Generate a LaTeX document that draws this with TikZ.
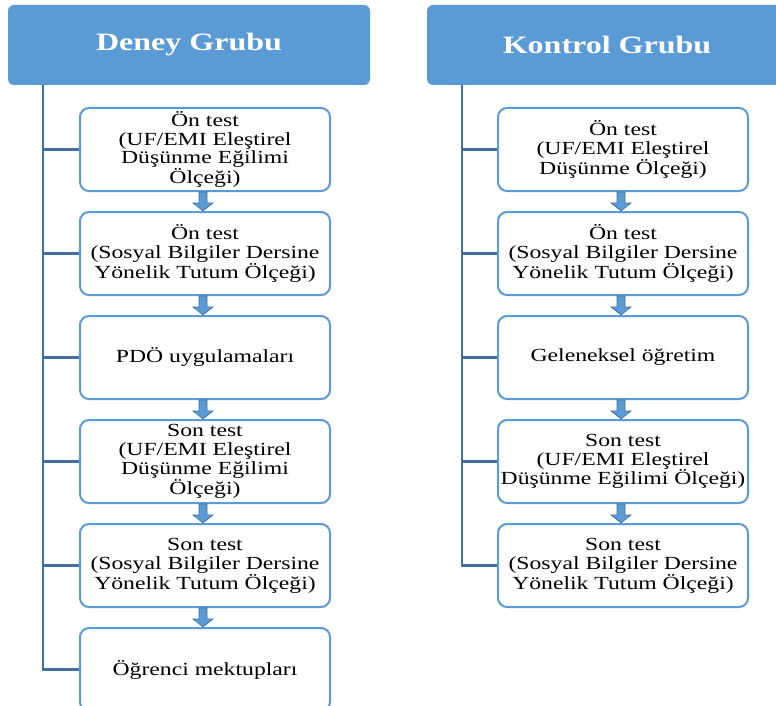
\documentclass[tikz,border=0pt]{standalone}
\usepackage{fontspec}
\setmainfont{Liberation Serif}[FakeStretch=1.28]
\usetikzlibrary{calc}
\definecolor{hdblue}{HTML}{5B9BD5}
\definecolor{lnblue}{HTML}{41719C}
\tikzset{
  hdr/.style={fill=hdblue, draw=none, rounded corners=6pt, text=white,
    font=\fontsize{25}{27}\selectfont\bfseries, minimum height=80pt, inner sep=0pt},
  stepbox/.style={draw=hdblue, line width=2pt, fill=white, rounded corners=9pt,
    minimum width=250pt, minimum height=83pt, inner sep=0pt, align=center,
    font=\fontsize{18.5}{18.8}\selectfont},
  conn/.style={draw=lnblue, line width=2.5pt},
  barrow/.style={fill=hdblue, draw=lnblue, line width=0.6pt, line join=miter}
}
\newcommand{\blockarrow}[2]{%
  \draw[barrow] ($(#1.south)+(-6,0)$) -- ($(#1.south)+(-6,-11)$) -- ($(#1.south)+(-12,-11)$)
    -- ($(#2.north)+(-2,0)$) -- ($(#1.south)+(8,-11)$) -- ($(#1.south)+(2,-11)$)
    -- ($(#1.south)+(2,0)$) -- cycle;}
\begin{document}
\begin{tikzpicture}[x=1pt,y=1pt]
\useasboundingbox (0,0) rectangle (776,-706);
\clip (0,0) rectangle (776,-706);
\fill[white] (0,0) rectangle (776,-706);

% headers
\node[hdr, minimum width=362pt] (hl) at (189,-45) {Deney Grubu};
\node[hdr, minimum width=360pt] (hr) at (607,-45) {Kontrol Grubu};

% left column
\coordinate (L) at (43,-85);
\node[stepbox] (l1) at (205,-149.5) {Ön test\\(UF/EMI Eleştirel\\Düşünme Eğilimi\\Ölçeği)};
\node[stepbox] (l2) at (205,-253.5) {Ön test\\(Sosyal Bilgiler Dersine\\Yönelik Tutum Ölçeği)};
\node[stepbox] (l3) at (205,-357.5) {PDÖ uygulamaları};
\node[stepbox] (l4) at (205,-461.5) {Son test\\(UF/EMI Eleştirel\\Düşünme Eğilimi\\Ölçeği)};
\node[stepbox] (l5) at (205,-565.5) {Son test\\(Sosyal Bilgiler Dersine\\Yönelik Tutum Ölçeği)};
\node[stepbox] (l6) at (205,-669.5) {Öğrenci mektupları};

% right column
\coordinate (R) at (462,-85);
\node[stepbox] (r1) at (623,-149.5) {Ön test\\(UF/EMI Eleştirel\\Düşünme Ölçeği)};
\node[stepbox] (r2) at (623,-253.5) {Ön test\\(Sosyal Bilgiler Dersine\\Yönelik Tutum Ölçeği)};
\node[stepbox] (r3) at (623,-357.5) {Geleneksel öğretim};
\node[stepbox] (r4) at (623,-461.5) {Son test\\(UF/EMI Eleştirel\\Düşünme Eğilimi Ölçeği)};
\node[stepbox] (r5) at (623,-565.5) {Son test\\(Sosyal Bilgiler Dersine\\Yönelik Tutum Ölçeği)};

% connectors
\draw[conn] (L) |- (l6.west);
\foreach \n in {l1,l2,l3,l4,l5} \draw[conn] (L |- \n.west) -- (\n.west);
\draw[conn] (R) |- (r5.west);
\foreach \n in {r1,r2,r3,r4} \draw[conn] (R |- \n.west) -- (\n.west);

% block arrows
\blockarrow{l1}{l2}
\blockarrow{l2}{l3}
\blockarrow{l3}{l4}
\blockarrow{l4}{l5}
\blockarrow{l5}{l6}
\blockarrow{r1}{r2}
\blockarrow{r2}{r3}
\blockarrow{r3}{r4}
\blockarrow{r4}{r5}
\end{tikzpicture}
\end{document}
